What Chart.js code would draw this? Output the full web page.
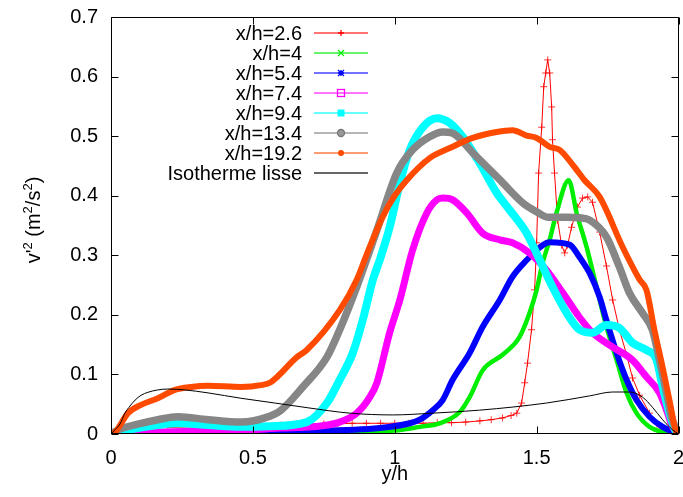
<!DOCTYPE html>
<html><head><meta charset="utf-8">
<script src="https://cdn.jsdelivr.net/npm/chart.js@4/dist/chart.umd.min.js"></script>
<style>html,body{margin:0;padding:0;background:#fff}#wrap{width:683px;height:497px;position:relative}</style>
</head><body><div id="wrap"><canvas id="c" width="683" height="497"></canvas></div>
<script>
// ---- data (y/h positions and v'^2 values) ----
const xTicks = [0, 0.5, 1, 1.5, 2];
const yTicks = [0, 0.1, 0.2, 0.3, 0.4, 0.5, 0.6, 0.7];
const seriesNames = ["x/h=2.6", "x/h=4", "x/h=5.4", "x/h=7.4", "x/h=9.4", "x/h=13.4", "x/h=19.2", "Isotherme lisse"];

const x26 = [0, 0.03, 0.1, 0.2, 0.3, 0.4, 0.5, 0.6, 0.65, 0.7, 0.75, 0.8, 0.85, 0.9, 0.95, 1.0, 1.05, 1.1, 1.15, 1.2, 1.25, 1.3, 1.34, 1.38, 1.41, 1.43, 1.447, 1.458, 1.468, 1.482, 1.493, 1.5, 1.507, 1.518, 1.525, 1.532, 1.539, 1.546, 1.553, 1.556, 1.563, 1.574, 1.588, 1.599, 1.609, 1.623, 1.644, 1.662, 1.68, 1.697, 1.722, 1.746, 1.768, 1.792, 1.817, 1.838, 1.863, 1.898, 1.933, 1.979, 2];
const y26 = [0, 0.005, 0.009, 0.011, 0.012, 0.012, 0.013, 0.015, 0.016, 0.017, 0.017, 0.017, 0.018, 0.018, 0.018, 0.018, 0.018, 0.018, 0.019, 0.019, 0.02, 0.022, 0.024, 0.027, 0.031, 0.035, 0.052, 0.086, 0.119, 0.175, 0.242, 0.321, 0.438, 0.515, 0.583, 0.606, 0.628, 0.606, 0.549, 0.494, 0.438, 0.359, 0.317, 0.304, 0.317, 0.347, 0.381, 0.396, 0.398, 0.389, 0.339, 0.282, 0.225, 0.175, 0.133, 0.094, 0.065, 0.035, 0.012, 0.002, 0];

const x40 = [0, 0.05, 0.313, 0.6, 0.842, 1.0, 1.088, 1.158, 1.229, 1.264, 1.31, 1.38, 1.44, 1.475, 1.5, 1.521, 1.546, 1.57, 1.613, 1.641, 1.676, 1.711, 1.746, 1.782, 1.817, 1.852, 1.898, 1.958, 2];
const y40 = [0, 0.002, 0.003, 0.003, 0.004, 0.006, 0.012, 0.018, 0.037, 0.062, 0.107, 0.133, 0.163, 0.203, 0.242, 0.287, 0.326, 0.371, 0.426, 0.371, 0.314, 0.247, 0.180, 0.124, 0.069, 0.035, 0.012, 0.002, 0];

const x54 = [0, 0.067, 0.313, 0.665, 0.947, 1.053, 1.088, 1.134, 1.169, 1.204, 1.264, 1.31, 1.37, 1.415, 1.465, 1.521, 1.546, 1.616, 1.651, 1.687, 1.722, 1.746, 1.782, 1.817, 1.852, 1.898, 1.944, 2];
const y54 = [0, 0.003, 0.003, 0.005, 0.010, 0.018, 0.024, 0.040, 0.057, 0.091, 0.136, 0.180, 0.225, 0.264, 0.292, 0.317, 0.322, 0.318, 0.297, 0.270, 0.230, 0.191, 0.136, 0.091, 0.057, 0.029, 0.012, 0];

const x74 = [0, 0.137, 0.313, 0.489, 0.595, 0.711, 0.806, 0.866, 0.912, 0.937, 0.982, 1.018, 1.063, 1.113, 1.148, 1.169, 1.204, 1.254, 1.31, 1.37, 1.415, 1.475, 1.535, 1.592, 1.651, 1.697, 1.768, 1.838, 1.887, 1.933, 1.958, 1.979, 2];
const y74 = [0, 0.003, 0.005, 0.007, 0.010, 0.012, 0.020, 0.035, 0.062, 0.086, 0.170, 0.225, 0.309, 0.371, 0.393, 0.396, 0.393, 0.371, 0.337, 0.326, 0.321, 0.304, 0.275, 0.237, 0.196, 0.170, 0.146, 0.124, 0.096, 0.069, 0.040, 0.012, 0];

const x94 = [0, 0.06, 0.165, 0.236, 0.342, 0.458, 0.56, 0.69, 0.761, 0.806, 0.852, 0.887, 0.923, 0.947, 0.982, 1.018, 1.053, 1.099, 1.148, 1.194, 1.239, 1.299, 1.359, 1.405, 1.465, 1.511, 1.556, 1.606, 1.651, 1.697, 1.746, 1.792, 1.838, 1.887, 1.923, 1.944, 1.968, 1.993, 2];
const y94 = [0, 0.007, 0.015, 0.018, 0.015, 0.012, 0.013, 0.020, 0.052, 0.091, 0.136, 0.191, 0.259, 0.292, 0.347, 0.421, 0.477, 0.515, 0.530, 0.522, 0.499, 0.455, 0.405, 0.376, 0.337, 0.292, 0.247, 0.203, 0.175, 0.170, 0.183, 0.178, 0.153, 0.141, 0.124, 0.079, 0.035, 0.002, 0];

const x134 = [0, 0.025, 0.106, 0.165, 0.236, 0.342, 0.458, 0.542, 0.599, 0.676, 0.761, 0.806, 0.866, 0.937, 1.007, 1.063, 1.123, 1.169, 1.204, 1.275, 1.37, 1.451, 1.5, 1.539, 1.606, 1.651, 1.687, 1.746, 1.792, 1.827, 1.873, 1.908, 1.933, 1.958, 1.975, 2];
const y134 = [0, 0.007, 0.018, 0.024, 0.029, 0.024, 0.020, 0.027, 0.040, 0.079, 0.129, 0.175, 0.247, 0.342, 0.438, 0.477, 0.499, 0.507, 0.505, 0.472, 0.427, 0.388, 0.373, 0.364, 0.364, 0.363, 0.359, 0.331, 0.280, 0.237, 0.203, 0.175, 0.124, 0.069, 0.029, 0];

const x192 = [0, 0.014, 0.06, 0.106, 0.165, 0.225, 0.282, 0.342, 0.458, 0.528, 0.563, 0.655, 0.69, 0.806, 0.866, 0.9, 0.958, 1.0, 1.042, 1.123, 1.194, 1.275, 1.359, 1.415, 1.465, 1.5, 1.546, 1.581, 1.627, 1.669, 1.722, 1.803, 1.863, 1.887, 1.915, 1.944, 1.968, 1.993, 2];
const y192 = [0, 0.003, 0.035, 0.049, 0.060, 0.074, 0.079, 0.081, 0.079, 0.082, 0.087, 0.129, 0.141, 0.208, 0.259, 0.300, 0.365, 0.400, 0.426, 0.463, 0.480, 0.497, 0.507, 0.510, 0.501, 0.497, 0.482, 0.477, 0.452, 0.426, 0.398, 0.314, 0.259, 0.242, 0.175, 0.112, 0.057, 0.002, 0];

const xIso = [0, 0.014, 0.032, 0.049, 0.067, 0.085, 0.106, 0.13, 0.165, 0.2, 0.26, 0.342, 0.458, 0.577, 0.694, 0.842, 0.993, 1.134, 1.299, 1.535, 1.687, 1.768, 1.827, 1.873, 1.908, 1.944, 1.979, 2];
const yIso = [0, 0.007, 0.017, 0.035, 0.047, 0.057, 0.065, 0.070, 0.074, 0.0755, 0.074, 0.069, 0.060, 0.052, 0.044, 0.035, 0.032, 0.035, 0.040, 0.052, 0.064, 0.0705, 0.0705, 0.062, 0.045, 0.024, 0.007, 0];

const colors = ["#ff0000", "#00ee00", "#0000ff", "#ff00ff", "#00ffff", "#868686", "#ff4a00", "#000000"];
const widths = [1, 4.5, 6, 7, 8, 7.5, 6, 1];

const pts = (xs, ys) => xs.map((v, i) => ({x: v, y: ys[i]}));
const allX = [x26, x40, x54, x74, x94, x134, x192, xIso];
const allY = [y26, y40, y54, y74, y94, y134, y192, yIso];

const datasets = allX.map((xs, i) => ({
  label: seriesNames[i],
  data: pts(xs, allY[i]),
  borderColor: colors[i],
  backgroundColor: colors[i],
  borderWidth: widths[i],
  pointRadius: i === 0 ? 3.5 : 0,
  pointStyle: 'cross',
  pointBorderWidth: 1,
  pointBorderColor: i === 0 ? 'rgba(255,0,0,0.8)' : colors[i],
  cubicInterpolationMode: i === 0 ? 'default' : 'monotone',
  tension: 0,
  borderJoinStyle: 'round',
  borderCapStyle: 'round',
  order: 8 - i,
  fill: false
}));

const FONT = "'Liberation Sans', Arial, sans-serif";
const FS = 20;

const deco = {
  id: 'deco',
  afterDatasetsDraw(chart) {
    const {ctx, chartArea: a, scales: {x, y}} = chart;
    ctx.save();
    ctx.strokeStyle = '#000';
    ctx.lineWidth = 1;
    const L = Math.round(a.left) + 0.5, R = Math.round(a.right) - 0.5;
    const T = Math.round(a.top) + 0.5, B = Math.round(a.bottom) - 0.5;
    ctx.beginPath();
    ctx.rect(L, T, R - L, B - T);
    const tl = 7;
    xTicks.forEach(v => {
      const px = Math.round(x.getPixelForValue(v)) + 0.5;
      ctx.moveTo(px, B); ctx.lineTo(px, B - tl);
      ctx.moveTo(px, T); ctx.lineTo(px, T + tl);
    });
    yTicks.forEach(v => {
      const py = Math.round(y.getPixelForValue(v)) + 0.5;
      ctx.moveTo(L, py); ctx.lineTo(L + tl, py);
      ctx.moveTo(R, py); ctx.lineTo(R - tl, py);
    });
    ctx.stroke();
    ctx.restore();
  },
  afterDraw(chart) {
    const {ctx, chartArea: a} = chart;
    ctx.save();
    ctx.fillStyle = '#000';
    // x title
    ctx.font = FS + 'px ' + FONT;
    ctx.textAlign = 'center';
    ctx.textBaseline = 'middle';
    ctx.fillText('y/h', (a.left + a.right) / 2, 474);
    // y title with superscripts
    const parts = [["v'", 0], ["2", 1], [" (m", 0], ["2", 1], ["/s", 0], ["2", 1], [")", 0]];
    const big = FS + 'px ' + FONT, small = '13px ' + FONT;
    let total = 0;
    parts.forEach(p => { ctx.font = p[1] ? small : big; total += ctx.measureText(p[0]).width; });
    ctx.translate(33, 220);
    ctx.rotate(-Math.PI / 2);
    ctx.textAlign = 'left';
    ctx.textBaseline = 'alphabetic';
    let cx = -total / 2;
    parts.forEach(p => {
      ctx.font = p[1] ? small : big;
      ctx.fillText(p[0], cx, p[1] ? -1 : 7);
      cx += ctx.measureText(p[0]).width;
    });
    ctx.restore();

    // legend
    ctx.save();
    const alphaCol = ["rgba(255,0,0,0.55)", "rgba(0,238,0,0.6)", "rgba(0,0,255,0.55)", "rgba(255,0,255,0.55)", "rgba(0,255,255,0.6)", "rgba(134,134,134,0.6)", "rgba(255,74,0,0.55)", "rgba(0,0,0,0.6)"];
    seriesNames.forEach((name, i) => {
      const yy = 33 + 20 * i;
      ctx.font = FS + 'px ' + FONT;
      ctx.fillStyle = '#000';
      ctx.textAlign = 'right';
      ctx.textBaseline = 'middle';
      ctx.fillText(name, 302, yy + 1);
      ctx.strokeStyle = alphaCol[i];
      ctx.lineWidth = 2;
      ctx.beginPath(); ctx.moveTo(314, yy); ctx.lineTo(368, yy); ctx.stroke();
      const mx = 341;
      ctx.strokeStyle = colors[i];
      ctx.fillStyle = colors[i];
      ctx.lineWidth = 1.3;
      ctx.beginPath();
      if (i === 0) { ctx.moveTo(mx - 3, yy); ctx.lineTo(mx + 3, yy); ctx.moveTo(mx, yy - 3); ctx.lineTo(mx, yy + 3); ctx.stroke(); }
      else if (i === 1) { ctx.moveTo(mx - 3, yy - 3); ctx.lineTo(mx + 3, yy + 3); ctx.moveTo(mx - 3, yy + 3); ctx.lineTo(mx + 3, yy - 3); ctx.stroke(); }
      else if (i === 2) { ctx.moveTo(mx - 3, yy); ctx.lineTo(mx + 3, yy); ctx.moveTo(mx, yy - 3); ctx.lineTo(mx, yy + 3); ctx.moveTo(mx - 3, yy - 3); ctx.lineTo(mx + 3, yy + 3); ctx.moveTo(mx - 3, yy + 3); ctx.lineTo(mx + 3, yy - 3); ctx.stroke(); }
      else if (i === 3) { ctx.strokeRect(mx - 3.5, yy - 3.5, 7, 7); }
      else if (i === 4) { ctx.fillRect(mx - 3.5, yy - 3.5, 7, 7); }
      else if (i === 5) { ctx.fillStyle = '#999'; ctx.arc(mx, yy, 3.5, 0, Math.PI * 2); ctx.fill(); ctx.strokeStyle = '#777'; ctx.stroke(); }
      else if (i === 6) { ctx.arc(mx, yy, 3, 0, Math.PI * 2); ctx.fill(); }
    });
    ctx.restore();
  }
};

new Chart(document.getElementById('c'), {
  type: 'line',
  data: { datasets },
  options: {
    responsive: false,
    animation: false,
    layout: { padding: { left: 0, right: 4, top: 17, bottom: 0 } },
    plugins: { legend: { display: false }, tooltip: { enabled: false } },
    elements: { point: { hoverRadius: 0 } },
    scales: {
      x: {
        type: 'linear', min: 0, max: 2,
        afterBuildTicks: s => { s.ticks = xTicks.map(v => ({value: v})); },
        ticks: { color: '#000', font: { size: FS, family: FONT }, padding: 12, maxRotation: 0, autoSkip: false,
          callback: v => String(v) },
        grid: { display: false, drawTicks: false },
        border: { display: false },
        afterFit: s => { s.height = 63; s.paddingLeft = 0; s.paddingRight = 0; }
      },
      y: {
        type: 'linear', min: 0, max: 0.7,
        afterBuildTicks: s => { s.ticks = yTicks.map(v => ({value: v})); },
        ticks: { color: '#000', font: { size: FS, family: FONT }, padding: 13, autoSkip: false,
          callback: v => String(v) },
        grid: { display: false, drawTicks: false },
        border: { display: false },
        afterFit: s => { s.width = 111; s.paddingTop = 0; s.paddingBottom = 0; }
      }
    }
  },
  plugins: [deco]
});
</script>
</body></html>
